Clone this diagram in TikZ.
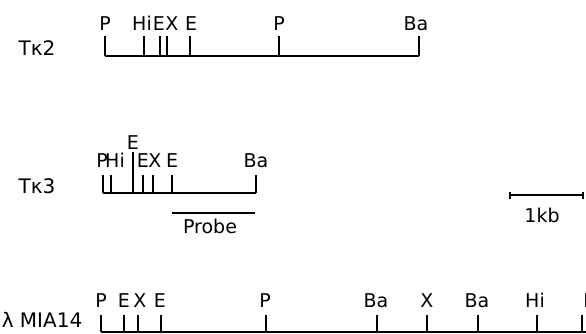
\documentclass[tikz,border=0pt]{standalone}
\usepackage{fontspec}
\setmainfont{DejaVu Sans}
\usetikzlibrary{arrows.meta}

\begin{document}
\begin{tikzpicture}[x=1pt, y=-1pt,
  map/.style={line width=1.7pt},
  site/.style={anchor=base, inner sep=0pt, font=\fontsize{19}{22}\selectfont},
  clone/.style={anchor=base, inner sep=0pt, font=\fontsize{20}{22}\selectfont},
  scalebar/.style={line width=1.7pt, {Bar[width=7pt]}-{Bar[width=7pt]}}
]
\useasboundingbox (0,0) rectangle (586,333);

% T kappa 2
\node[clone] (tk2) at (37,55) {Tκ2};
\coordinate (tk2L) at (105,56);
\coordinate (tk2R) at (419,56);
\draw[map] (tk2L) -- (tk2R);
\foreach \x/\n/\lx [count=\i] in {105/P/105, 144/Hi/142, 160/E/159, 167/X/172,
    190/E/191, 279/P/279, 419/Ba/416} {
  \node[site] (tk2s\i) at (\lx,30) {\n};
  \coordinate (tk2a\i) at (\x,36);
  \coordinate (tk2b\i) at (\x,56);
  \draw[map] (tk2a\i) -- (tk2b\i);
}

% T kappa 3
\node[clone] (tk3) at (37,193) {Tκ3};
\coordinate (tk3L) at (103,193);
\coordinate (tk3R) at (256,193);
\draw[map] (tk3L) -- (tk3R);
\foreach \x/\n/\lx [count=\i] in {103/P/102, 111/Hi/115, 143/E/143, 153/X/155,
    172/E/172, 256/Ba/256} {
  \node[site] (tk3s\i) at (\lx,167) {\n};
  \coordinate (tk3a\i) at (\x,175);
  \coordinate (tk3b\i) at (\x,193);
  \draw[map] (tk3a\i) -- (tk3b\i);
}
\node[site] (tk3E) at (133,149) {E};
\coordinate (tk3Ea) at (133,152);
\coordinate (tk3Eb) at (133,193);
\draw[map] (tk3Ea) -- (tk3Eb);

% probe
\coordinate (pbL) at (172,213);
\coordinate (pbR) at (255,213);
\draw[map] (pbL) -- (pbR);
\node[site] (probe) at (210,233) {Probe};

% scale
\coordinate (sbL) at (509,195);
\coordinate (sbR) at (584,195);
\draw[scalebar] (sbL) -- (sbR);
\node[site] (kb) at (542,222) {1kb};

% lambda MIA14
\node[clone] (mia) at (42,327) {λ MIA14};
\coordinate (miaL) at (101,332);
\coordinate (miaR) at (600,332);
\draw[map] (miaL) -- (miaR);
\foreach \x/\n/\lx [count=\i] in {101/P/101, 124/E/124, 138/X/140, 161/E/160,
    266/P/265, 377/Ba/376, 427/X/427, 478/Ba/477, 537/Hi/535, 582/P/589} {
  \node[site] (mias\i) at (\lx,307) {\n};
  \coordinate (miaa\i) at (\x,315);
  \coordinate (miab\i) at (\x,332);
  \draw[map] (miaa\i) -- (miab\i);
}
\end{tikzpicture}
\end{document}
